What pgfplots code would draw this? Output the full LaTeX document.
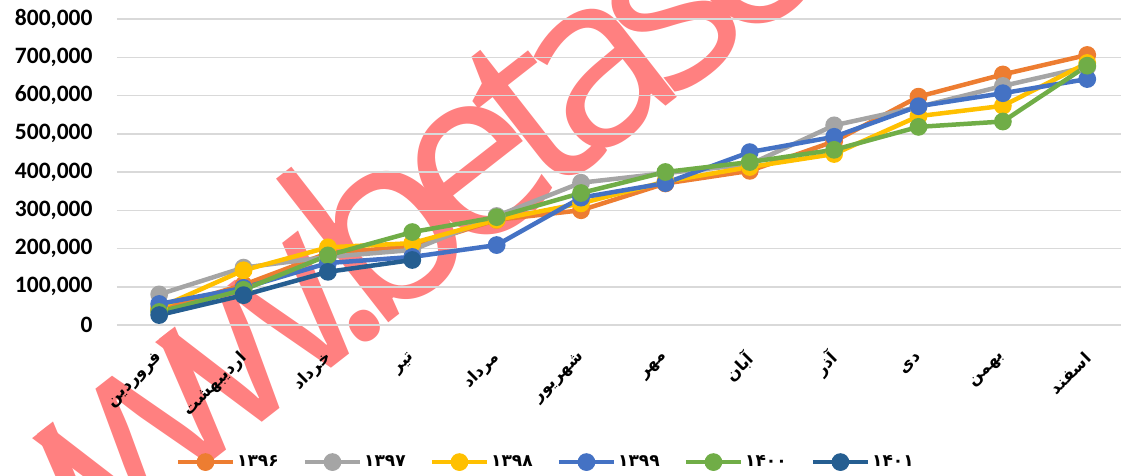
\documentclass[border=0pt]{standalone}
\usepackage{fontspec}
\setmainfont{Carlito}
\newfontfamily\fa[Script=Arabic]{DejaVu Sans}
\newfontfamily\wm[LetterSpace=-13]{Open Sans}
\usepackage{pgfplots}
\pgfplotsset{compat=1.18}
\TeXXeTstate=1
\definecolor{c96}{HTML}{ED7D31}
\definecolor{c97}{HTML}{A5A5A5}
\definecolor{c98}{HTML}{FFC000}
\definecolor{c99}{HTML}{4472C4}
\definecolor{c00}{HTML}{70AD47}
\definecolor{c01}{HTML}{255E91}
\definecolor{wmred}{HTML}{FF8080}
\definecolor{gridc}{HTML}{D9D9D9}
\newcommand{\mon}[1]{{\fa\bfseries\beginR #1\endR}}

\begin{document}
\begin{tikzpicture}
% watermark, behind the chart
\node[rotate=38, anchor=base west, text=wmred, inner sep=0pt,
      font=\wm\fontsize{240bp}{250bp}\selectfont] at (-130bp,-312bp) {www.betasoft};

\begin{axis}[
    scale only axis,
    width=1004bp, height=306bp,
    xmin=-0.5, xmax=11.4,
    ymin=0, ymax=800000,
    axis line style={draw=none},
    major tick length=0pt,
    ytick={0,100000,...,800000},
    scaled y ticks=false,
    ymajorgrids,
    grid style={gridc, line width=1.5bp},
    yticklabel style={font=\fontsize{23.5bp}{28bp}\selectfont\bfseries, xshift=-21bp,
        /pgf/number format/.cd, fixed, 1000 sep={,}, assume math mode=true},
    xtick={0,...,11},
    xticklabels={\mon{فروردین},\mon{اردیبهشت},\mon{خرداد},\mon{تیر},\mon{مرداد},\mon{شهریور},
                 \mon{مهر},\mon{آبان},\mon{آذر},\mon{دی},\mon{بهمن},\mon{اسفند}},
    xticklabel style={yshift=-28bp, xshift=3bp, rotate=45, anchor=east,
        font=\fontsize{16.5bp}{20bp}\selectfont},
    every axis plot/.append style={line width=4.5bp, mark=*, mark size=6.6bp},
    legend columns=6,
    legend style={at={(0.427,-0.448)}, anchor=center, draw=none, fill=none,
        font=\fa\bfseries\fontsize{17bp}{20bp}\selectfont,
        /tikz/every even column/.append style={column sep=22bp}},
    legend image code/.code={\draw[mark repeat=2,mark phase=2]
        plot coordinates {(0bp,0bp) (27.5bp,0bp) (55bp,0bp)};},
]
\addplot[color=c96] coordinates {(0,40000) (1,105000) (2,188000) (3,205000) (4,275000) (5,300000)
    (6,370000) (7,403000) (8,480000) (9,597000) (10,655000) (11,706000)};
\addplot[color=c97] coordinates {(0,80000) (1,150000) (2,178000) (3,196000) (4,285000) (5,372000)
    (6,397000) (7,420000) (8,522000) (9,570000) (10,625000) (11,675000)};
\addplot[color=c98] coordinates {(0,45000) (1,143000) (2,203000) (3,214000) (4,275000) (5,318000)
    (6,375000) (7,413000) (8,447000) (9,546000) (10,573000) (11,685000)};
\addplot[color=c99] coordinates {(0,55000) (1,97000) (2,162000) (3,178000) (4,209000) (5,333000)
    (6,371000) (7,452000) (8,492000) (9,572000) (10,606000) (11,643000)};
\addplot[color=c00] coordinates {(0,34000) (1,92000) (2,182000) (3,243000) (4,282000) (5,345000)
    (6,400000) (7,426000) (8,458000) (9,518000) (10,532000) (11,678000)};
\addplot[color=c01] coordinates {(0,26000) (1,78000) (2,139000) (3,170000)};
\legend{۱۳۹۶,۱۳۹۷,۱۳۹۸,۱۳۹۹,۱۴۰۰,۱۴۰۱}
\end{axis}
\pgfresetboundingbox
\useasboundingbox (-117bp,-151bp) rectangle (1004bp,325bp);
\end{tikzpicture}
\end{document}
